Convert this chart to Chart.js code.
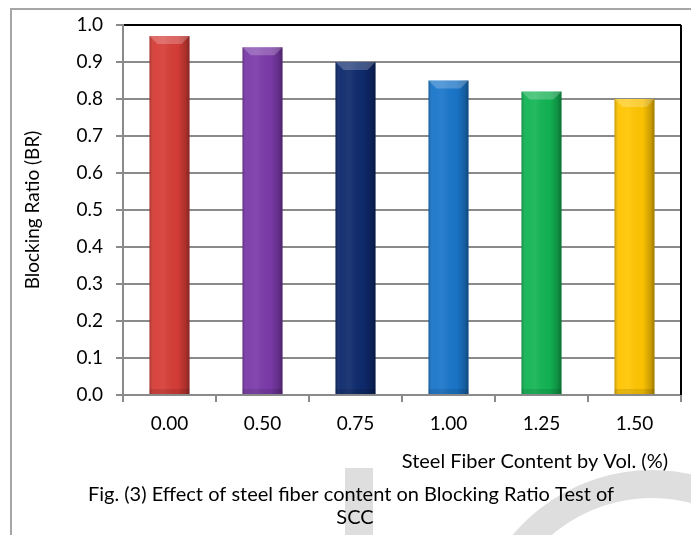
<!DOCTYPE html>
<html lang="en">
<head>
    <meta charset="UTF-8">
    <title>Blocking Ratio</title>
    <script src="https://cdn.jsdelivr.net/npm/chart.js"></script>
    <style>
        body {
            margin: 0;
            background-color: #ffffff;
        }
        #wrap {
            width: 691px;
            height: 535px;
        }
    </style>
</head>
<body>

<div id="wrap">
    <canvas id="brChart" width="691" height="535"></canvas>
</div>

<script>
    // data
    const fiberContent = ['0.00', '0.50', '0.75', '1.00', '1.25', '1.50'];
    const blockingRatio = [0.97, 0.94, 0.90, 0.85, 0.82, 0.80];
    const barColors = ['#d63d37', '#7b3aa9', '#0e2a6c', '#1a76ca', '#13b454', '#ffc502'];
    const yTicks = [0, 0.1, 0.2, 0.3, 0.4, 0.5, 0.6, 0.7, 0.8, 0.9, 1.0];

    const yTitle = 'Blocking Ratio (BR)';
    const xTitle = 'Steel Fiber Content by Vol. (%)';
    const caption = ['Fig. (3) Effect of steel fiber content on Blocking Ratio Test of', 'SCC'];

    const FONT = 'Lato, "Open Sans", sans-serif';

    // page frame + watermark behind everything
    const backdrop = {
        id: 'backdrop',
        beforeDraw(chart) {
            const ctx = chart.ctx;
            ctx.save();
            ctx.fillStyle = '#dedede';
            ctx.fillRect(345, 468, 28, 67);
            ctx.strokeStyle = '#dedede';
            ctx.lineWidth = 28;
            ctx.beginPath();
            ctx.arc(652, 652, 168, Math.PI * 1.18, Math.PI * 1.62);
            ctx.stroke();

            ctx.strokeStyle = '#a6a6a6';
            ctx.lineWidth = 2;
            ctx.beginPath();
            ctx.moveTo(11, 535);
            ctx.lineTo(11, 9);
            ctx.lineTo(691, 9);
            ctx.stroke();
            ctx.restore();
        }
    };

    // shading on the bars (cylinder look + bevelled top)
    const barShading = {
        id: 'barShading',
        afterDatasetsDraw(chart) {
            const ctx = chart.ctx;
            const meta = chart.getDatasetMeta(0);
            meta.data.forEach(bar => {
                const left = bar.x - bar.width / 2;
                const right = bar.x + bar.width / 2;
                const top = bar.y;
                const bottom = bar.base;
                ctx.save();
                const g = ctx.createLinearGradient(left, 0, right, 0);
                g.addColorStop(0, 'rgba(0,0,0,0.22)');
                g.addColorStop(0.12, 'rgba(255,255,255,0.04)');
                g.addColorStop(0.35, 'rgba(255,255,255,0.07)');
                g.addColorStop(0.7, 'rgba(0,0,0,0.02)');
                g.addColorStop(0.9, 'rgba(0,0,0,0.20)');
                g.addColorStop(1, 'rgba(0,0,0,0.38)');
                ctx.fillStyle = g;
                ctx.fillRect(left, top, right - left, bottom - top);

                // top bevel
                const bev = 8;
                ctx.fillStyle = 'rgba(255,255,255,0.22)';
                ctx.beginPath();
                ctx.moveTo(left, top);
                ctx.lineTo(right, top);
                ctx.lineTo(right - bev, top + bev);
                ctx.lineTo(left + bev, top + bev);
                ctx.closePath();
                ctx.fill();

                // bottom bevel
                ctx.fillStyle = 'rgba(0,0,0,0.10)';
                ctx.fillRect(left, bottom - 5, right - left, 5);
                ctx.restore();
            });
        }
    };

    // titles, caption and right border
    const labels = {
        id: 'labels',
        afterDraw(chart) {
            const ctx = chart.ctx;
            const area = chart.chartArea;
            ctx.save();
            ctx.strokeStyle = '#000000';
            ctx.lineWidth = 2;
            ctx.beginPath();
            ctx.moveTo(area.right, area.top);
            ctx.lineTo(area.right, area.bottom);
            ctx.stroke();

            ctx.fillStyle = '#000000';
            ctx.font = '19px ' + FONT;
            ctx.textBaseline = 'middle';

            ctx.save();
            ctx.translate(33, (area.top + area.bottom) / 2);
            ctx.rotate(-Math.PI / 2);
            ctx.textAlign = 'center';
            ctx.fillText(yTitle, 0, 0);
            ctx.restore();

            ctx.font = '20px ' + FONT;
            ctx.textAlign = 'right';
            ctx.fillText(xTitle, 668, 462);

            ctx.textAlign = 'center';
            ctx.fillText(caption[0], 351, 495);
            ctx.fillText(caption[1], 355, 518);
            ctx.restore();
        }
    };

    const ctx = document.getElementById('brChart').getContext('2d');
    new Chart(ctx, {
        type: 'bar',
        data: {
            labels: fiberContent,
            datasets: [{
                label: 'Blocking Ratio',
                data: blockingRatio,
                backgroundColor: barColors,
                borderWidth: 0,
                barPercentage: 0.43,
                categoryPercentage: 1.0
            }]
        },
        options: {
            responsive: false,
            animation: false,
            layout: {
                padding: { left: 0, top: 25, right: 10, bottom: 80 }
            },
            plugins: {
                legend: { display: false },
                tooltip: { enabled: false }
            },
            scales: {
                x: {
                    afterFit: s => { s.height = 60; },
                    grid: {
                        offset: true,
                        drawOnChartArea: false,
                        drawTicks: true,
                        tickLength: 7,
                        color: '#8a8a8a',
                        lineWidth: 2
                    },
                    border: { color: '#8a8a8a', width: 2 },
                    ticks: {
                        color: '#000000',
                        font: { family: FONT, size: 19 },
                        padding: 10
                    }
                },
                y: {
                    min: 0,
                    max: 1,
                    afterFit: s => { s.width = 123; },
                    afterBuildTicks: s => { s.ticks = yTicks.map(v => ({ value: v })); },
                    grid: {
                        color: c => (c.tick && c.tick.value === 1 ? '#000000' : '#8a8a8a'),
                        lineWidth: 2,
                        tickLength: 7,
                        tickColor: '#8a8a8a'
                    },
                    border: { color: '#8a8a8a', width: 2 },
                    ticks: {
                        color: '#000000',
                        font: { family: FONT, size: 19 },
                        padding: 13,
                        callback: v => Number(v).toFixed(1)
                    }
                }
            }
        },
        plugins: [backdrop, barShading, labels]
    });
</script>

</body>
</html>
